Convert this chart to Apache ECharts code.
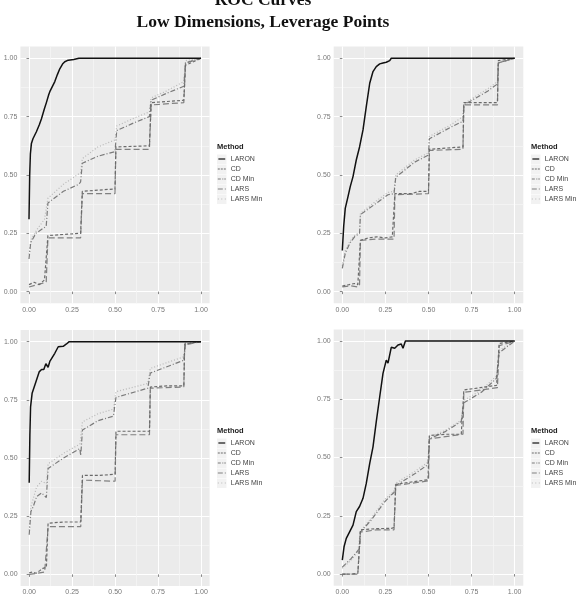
<!DOCTYPE html>
<html>
<head>
<meta charset="utf-8">
<script src="https://cdn.jsdelivr.net/npm/echarts@6/dist/echarts.min.js"></script>
<style>
  html, body { margin: 0; padding: 0; background: #fff; }
  #main { width: 576px; height: 597px; }
</style>
</head>
<body>
<div id="main"></div>
<script>
// methods, in legend order
var methods = ['LARON', 'CD', 'CD Min', 'LARS', 'LARS Min'];
var tickValues = [0, 0.25, 0.5, 0.75, 1];
var minorValues = [0.125, 0.375, 0.625, 0.875];

// panel 1 (top left)
var laron1 = [[0,0.31],[0.004,0.5],[0.008,0.59],[0.014,0.635],[0.023,0.655],[0.043,0.685],[0.06,0.715],[0.072,0.74],[0.09,0.785],[0.101,0.81],[0.115,0.845],[0.121,0.857],[0.13,0.865],[0.15,0.9],[0.165,0.93],[0.179,0.955],[0.195,0.975],[0.208,0.985],[0.228,0.992],[0.26,0.995],[0.29,1],[1,1]];
var cd1 = [[0,0.03],[0.03,0.04],[0.06,0.03],[0.09,0.05],[0.1,0.05],[0.11,0.24],[0.2,0.245],[0.3,0.25],[0.31,0.43],[0.5,0.44],[0.505,0.62],[0.7,0.625],[0.71,0.81],[0.9,0.82],[0.91,0.97],[1,1]];
var cdMin1 = [[0,0.14],[0.01,0.21],[0.04,0.25],[0.08,0.27],[0.1,0.28],[0.11,0.38],[0.2,0.43],[0.29,0.46],[0.3,0.47],[0.31,0.55],[0.4,0.58],[0.5,0.6],[0.51,0.69],[0.6,0.72],[0.7,0.75],[0.71,0.82],[0.8,0.85],[0.9,0.88],[0.91,0.98],[1,1]];
var lars1 = [[0,0.02],[0.05,0.03],[0.1,0.04],[0.11,0.23],[0.3,0.23],[0.31,0.42],[0.5,0.42],[0.505,0.61],[0.7,0.61],[0.71,0.8],[0.9,0.81],[0.91,0.98],[1,1]];
var larsMin1 = [[0,0.16],[0.01,0.22],[0.05,0.27],[0.09,0.31],[0.11,0.4],[0.2,0.46],[0.3,0.51],[0.31,0.57],[0.4,0.62],[0.5,0.65],[0.51,0.71],[0.6,0.74],[0.7,0.77],[0.71,0.83],[0.8,0.86],[0.9,0.9],[0.91,0.99],[1,1]];

// panel 2 (top right)
var laron2 = [[0,0.176],[0.008,0.28],[0.017,0.357],[0.033,0.407],[0.046,0.45],[0.062,0.493],[0.081,0.564],[0.1,0.62],[0.12,0.693],[0.139,0.793],[0.159,0.893],[0.178,0.943],[0.197,0.964],[0.217,0.976],[0.236,0.98],[0.255,0.983],[0.275,0.99],[0.284,1],[1,1]];
var cd2 = [[0,0.024],[0.04,0.03],[0.07,0.035],[0.09,0.03],[0.1,0.03],[0.105,0.22],[0.15,0.23],[0.2,0.235],[0.25,0.23],[0.29,0.235],[0.3,0.24],[0.305,0.42],[0.4,0.42],[0.45,0.43],[0.5,0.43],[0.505,0.61],[0.6,0.615],[0.7,0.62],[0.705,0.81],[0.8,0.81],[0.9,0.81],[0.905,0.99],[1,1]];
var cdMin2 = [[0,0.1],[0.017,0.164],[0.043,0.207],[0.072,0.236],[0.1,0.25],[0.105,0.33],[0.19,0.375],[0.265,0.415],[0.3,0.42],[0.31,0.49],[0.42,0.555],[0.5,0.585],[0.505,0.655],[0.63,0.705],[0.7,0.73],[0.705,0.8],[0.845,0.86],[0.9,0.89],[0.905,0.98],[1,1]];
var lars2 = [[0,0.02],[0.05,0.025],[0.09,0.02],[0.1,0.03],[0.105,0.22],[0.2,0.225],[0.3,0.225],[0.305,0.415],[0.5,0.42],[0.505,0.605],[0.7,0.61],[0.705,0.8],[0.9,0.8],[0.905,0.98],[1,1]];
var larsMin2 = [[0,0.11],[0.017,0.175],[0.043,0.215],[0.072,0.24],[0.1,0.255],[0.105,0.335],[0.19,0.385],[0.265,0.425],[0.3,0.43],[0.31,0.5],[0.42,0.565],[0.5,0.595],[0.505,0.665],[0.63,0.715],[0.7,0.75],[0.705,0.805],[0.845,0.87],[0.9,0.9],[0.905,0.99],[1,1]];

// panel 3 (bottom left)
var laron3 = [[0,0.394],[0.004,0.6],[0.008,0.72],[0.017,0.778],[0.033,0.814],[0.043,0.81],[0.058,0.87],[0.072,0.88],[0.085,0.88],[0.097,0.905],[0.11,0.89],[0.12,0.915],[0.149,0.95],[0.169,0.978],[0.198,0.98],[0.217,0.99],[0.233,1],[1,1]];
var cd3 = [[0,0.007],[0.02,0.01],[0.04,0.005],[0.06,0.015],[0.08,0.026],[0.1,0.03],[0.11,0.22],[0.2,0.225],[0.3,0.225],[0.31,0.425],[0.4,0.425],[0.5,0.43],[0.505,0.615],[0.6,0.615],[0.7,0.615],[0.705,0.805],[0.8,0.81],[0.9,0.81],[0.905,0.99],[1,1]];
var cdMin3 = [[0,0.17],[0.01,0.27],[0.023,0.29],[0.043,0.334],[0.072,0.35],[0.1,0.33],[0.11,0.455],[0.2,0.5],[0.295,0.54],[0.3,0.51],[0.31,0.62],[0.4,0.66],[0.49,0.68],[0.505,0.76],[0.69,0.8],[0.705,0.865],[0.9,0.92],[0.91,0.99],[1,1]];
var lars3 = [[0,0],[0.05,0.005],[0.09,0.01],[0.11,0.205],[0.3,0.205],[0.31,0.405],[0.5,0.4],[0.505,0.6],[0.7,0.6],[0.705,0.8],[0.9,0.805],[0.905,0.985],[1,1]];
var larsMin3 = [[0,0.19],[0.01,0.29],[0.043,0.375],[0.072,0.4],[0.1,0.39],[0.11,0.475],[0.2,0.52],[0.295,0.56],[0.31,0.655],[0.4,0.69],[0.49,0.71],[0.505,0.785],[0.69,0.82],[0.705,0.885],[0.9,0.935],[0.91,1],[1,1]];

// panel 4 (bottom right)
var laron4 = [[0,0.06],[0.01,0.117],[0.023,0.153],[0.043,0.182],[0.062,0.21],[0.081,0.268],[0.1,0.29],[0.12,0.325],[0.139,0.389],[0.159,0.475],[0.178,0.546],[0.197,0.654],[0.217,0.761],[0.236,0.861],[0.255,0.918],[0.265,0.905],[0.284,0.973],[0.304,0.969],[0.323,0.983],[0.342,0.987],[0.352,0.969],[0.366,1],[1,1]];
var cd4 = [[0,0],[0.05,0],[0.09,0.003],[0.1,0.01],[0.105,0.19],[0.2,0.195],[0.285,0.196],[0.3,0.2],[0.31,0.385],[0.4,0.395],[0.497,0.405],[0.505,0.595],[0.6,0.6],[0.69,0.6],[0.705,0.79],[0.8,0.8],[0.895,0.81],[0.91,0.99],[1,1]];
var cdMin4 = [[0,0.03],[0.052,0.067],[0.09,0.1],[0.1,0.11],[0.105,0.18],[0.168,0.232],[0.246,0.31],[0.284,0.339],[0.3,0.35],[0.31,0.38],[0.42,0.43],[0.497,0.47],[0.505,0.58],[0.594,0.61],[0.69,0.655],[0.705,0.735],[0.807,0.78],[0.894,0.84],[0.91,0.95],[1,1]];
var lars4 = [[0,0],[0.09,0],[0.105,0.18],[0.2,0.19],[0.3,0.19],[0.31,0.38],[0.5,0.4],[0.505,0.58],[0.7,0.6],[0.705,0.78],[0.9,0.8],[0.91,0.98],[1,1]];
var larsMin4 = [[0,0.025],[0.052,0.06],[0.09,0.095],[0.105,0.185],[0.168,0.24],[0.246,0.32],[0.3,0.355],[0.31,0.39],[0.42,0.44],[0.497,0.48],[0.505,0.59],[0.594,0.615],[0.69,0.66],[0.705,0.745],[0.807,0.79],[0.894,0.85],[0.91,0.96],[1,1]];

var panelData = [
  [laron1, cd1, cdMin1, lars1, larsMin1],
  [laron2, cd2, cdMin2, lars2, larsMin2],
  [laron3, cd3, cdMin3, lars3, larsMin3],
  [laron4, cd4, cdMin4, lars4, larsMin4]
];

var styles = [
  { color: '#111111', width: 1.5, type: 'solid' },
  { color: '#6a6a6a', width: 1.2, type: [3, 2] },
  { color: '#7a7a7a', width: 1.2, type: [5, 2, 1, 2] },
  { color: '#808080', width: 1.2, type: [6, 3] },
  { color: '#b8b8b8', width: 1.2, type: [1, 2] }
];
// legend keys drawn as short dash patterns (ggplot style)
var keyIcons = [
  'path://M0,0h8v1.4h-8z',
  'path://M0,0h2v1h-2zM3,0h2v1h-2zM6,0h2v1h-2z',
  'path://M0,0h3v1h-3zM4.5,0h1v1h-1zM6.5,0h1.5v1h-1.5z',
  'path://M0,0h5v1h-5zM7,0h1v1h-1z',
  'path://M0,0h1v1h-1zM3.5,0h1v1h-1zM7,0h1v1h-1z'
];

var grids = [
  { left: 20.4, top: 46.6, width: 189.2, height: 256.7 },
  { left: 333.7, top: 46.6, width: 189.6, height: 256.7 },
  { left: 20.6, top: 330, width: 189, height: 256 },
  { left: 333.7, top: 329.4, width: 189.6, height: 256.3 }
];
var legendPos = [[217, 143], [531, 143], [217, 427], [531, 427]];

var font = 'Liberation Sans, Arial, sans-serif';
var titleFont = 'bold 17.5px "Liberation Serif", serif';
var option = {
  animation: false,
  backgroundColor: '#ffffff',
  title: [],
  legend: [],
  grid: [],
  xAxis: [],
  yAxis: [],
  series: [],
  graphic: [
    { type: 'text', x: 263, y: 0, style: { text: 'ROC Curves', align: 'center', verticalAlign: 'middle',
      font: titleFont, fill: '#111' } },
    { type: 'text', x: 263, y: 22, style: { text: 'Low Dimensions, Leverage Points', align: 'center', verticalAlign: 'middle',
      font: titleFont, fill: '#111' } }
  ]
};

grids.forEach(function (g, i) {
  option.grid.push({ left: g.left, top: g.top, width: g.width, height: g.height, show: true,
    backgroundColor: '#EBEBEB', borderWidth: 0, containLabel: false, outerBoundsMode: 'none' });
  var leftCol = i % 2 === 0;
  var bottomRow = i >= 2;
  // major axes
  option.xAxis.push({
    type: 'value', gridIndex: i, min: -0.05, max: 1.05, position: 'bottom',
    name: bottomRow ? 'FPR' : '', nameLocation: 'middle', nameGap: 14,
    nameTextStyle: { fontSize: 9, color: '#222', fontFamily: font },
    axisLine: { show: false },
    axisTick: { show: true, length: 2.5, lineStyle: { color: '#888' }, customValues: tickValues },
    axisLabel: { customValues: tickValues, fontSize: 7, color: '#777', margin: 3, fontFamily: font,
      formatter: function (v) { return v.toFixed(2); } },
    splitLine: { show: true, lineStyle: { color: '#ffffff', width: 1.1 } }
  });
  option.yAxis.push({
    type: 'value', gridIndex: i, min: -0.05, max: 1.05, position: 'left',
    name: leftCol ? 'TPR' : '', nameLocation: 'middle', nameGap: 26,
    nameTextStyle: { fontSize: 9, color: '#222', fontFamily: font },
    axisLine: { show: false },
    axisTick: { show: true, length: 2.5, lineStyle: { color: '#888' }, customValues: tickValues },
    axisLabel: { customValues: tickValues, fontSize: 7, color: '#777', margin: 3, fontFamily: font,
      formatter: function (v) { return v.toFixed(2); } },
    splitLine: { show: true, lineStyle: { color: '#ffffff', width: 1.1 } }
  });
  // minor grid lines
  option.xAxis.push({
    type: 'value', gridIndex: i, min: -0.05, max: 1.05, position: 'top',
    axisLine: { show: false }, axisLabel: { show: false },
    axisTick: { show: false, customValues: minorValues },
    splitLine: { show: true, lineStyle: { color: '#F5F5F5', width: 0.8 } }
  });
  option.yAxis.push({
    type: 'value', gridIndex: i, min: -0.05, max: 1.05, position: 'right',
    axisLine: { show: false }, axisLabel: { show: false },
    axisTick: { show: false, customValues: minorValues },
    splitLine: { show: true, lineStyle: { color: '#F5F5F5', width: 0.8 } }
  });

  panelData[i].forEach(function (d, k) {
    option.series.push({
      type: 'line', name: methods[k], data: d,
      xAxisIndex: i * 2, yAxisIndex: i * 2,
      symbol: 'none', z: 10 - k,
      lineStyle: styles[k], itemStyle: { color: styles[k].color }
    });
  });

  var lp = legendPos[i];
  option.title.push({ text: 'Method', left: lp[0], top: lp[1], padding: 0,
    textStyle: { fontSize: 7.5, fontWeight: 'bold', color: '#222', fontFamily: font } });
  // light key backgrounds
  for (var k = 0; k < methods.length; k++) {
    option.graphic.push({ type: 'rect', z: -1, silent: true,
      shape: { x: lp[0], y: lp[1] + 11.5 + k * 10, width: 9.5, height: 9.5 },
      style: { fill: '#F2F2F2' } });
  }
  option.legend.push({
    data: methods.map(function (m, k) { return { name: m, icon: keyIcons[k] }; }),
    orient: 'vertical', left: lp[0] + 0.8, top: lp[1] + 12, padding: 0,
    itemWidth: 8, itemHeight: 1.2, itemGap: 2, selectedMode: false,
    textStyle: { fontSize: 7, lineHeight: 8, color: '#444', fontFamily: font }
  });
});

var chart = echarts.init(document.getElementById('main'), null, { renderer: 'canvas' });
chart.setOption(option);
</script>
</body>
</html>
